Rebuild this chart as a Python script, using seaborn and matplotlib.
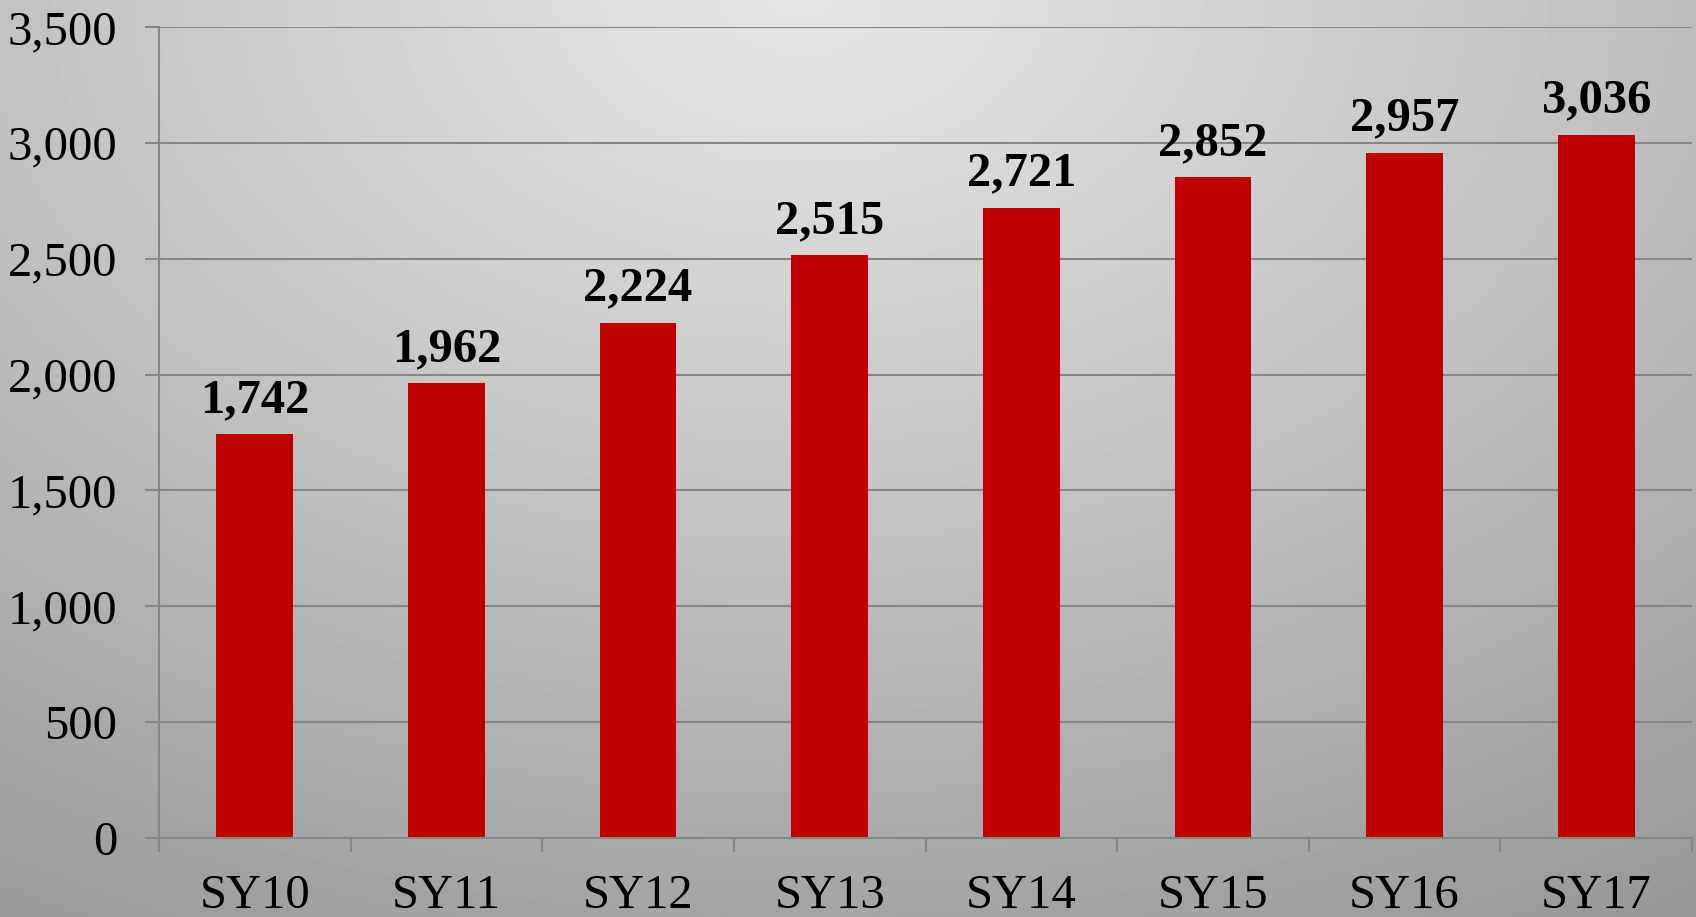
import numpy as np
import pandas as pd
import matplotlib
matplotlib.use("Agg")
import matplotlib.pyplot as plt
import seaborn as sns

years = ["SY10", "SY11", "SY12", "SY13", "SY14", "SY15", "SY16", "SY17"]
counts = [1742, 1962, 2224, 2515, 2721, 2852, 2957, 3036]
y_ticks = [0, 500, 1000, 1500, 2000, 2500, 3000, 3500]

sns.set_theme(style="white")
plt.rcParams["font.family"] = ["Liberation Serif", "DejaVu Serif"]
plt.rcParams["text.color"] = "black"

df = pd.DataFrame({"year": years, "count": counts})

W, H = 1696, 917
fig = plt.figure(figsize=(W / 100, H / 100), dpi=100)

# --- grey radial-ish background, light at top centre ---
bg = fig.add_axes([0, 0, 1, 1], zorder=-1)
xx, yy = np.meshgrid(np.arange(W), np.arange(H))
u = (xx - 800) / 800
w = yy / 917
d = np.sqrt((0.13 * u) ** 2 + (0.225 * w) ** 2)
v = np.clip(0.90 - d * (1 + 0.6 * d), 0, 1)
bg.imshow(v, cmap="gray", vmin=0, vmax=1, aspect="auto", extent=(0, W, H, 0))
bg.axis("off")

ax = fig.add_axes([159 / W, 79 / H, (1692 - 159) / W, (838 - 27) / H])
ax.set_facecolor("none")

sns.barplot(data=df, x="year", y="count", color="#C00000", saturation=1,
            width=0.4, linewidth=0, ax=ax)

ax.set_ylim(0, 3500)
ax.set_xlim(-0.5, len(years) - 0.5)
ax.set_yticks(y_ticks)
ax.set_yticklabels([f"{t:,}" for t in y_ticks], fontsize=35)
ax.yaxis.grid(True, color="#868686", linewidth=1.5)
ax.set_axisbelow(True)

# category boundary ticks (Excel style), labels on minor ticks
ax.set_xticks(np.arange(-0.5, len(years), 1.0))
ax.set_xticklabels([])
ax.set_xticks(range(len(years)), minor=True)
ax.set_xticklabels(years, minor=True, fontsize=35)
ax.tick_params(axis="x", which="major", length=10, width=1.5, color="#868686", direction="out", bottom=True)
ax.tick_params(axis="x", which="minor", length=0, pad=26, labelcolor="black")
ax.tick_params(axis="y", length=10, width=1.5, color="#868686", direction="out", left=True, pad=20,
               labelcolor="black")

ax.set_xlabel("")
ax.set_ylabel("")
for s in ["top", "right"]:
    ax.spines[s].set_visible(False)
for s in ["left", "bottom"]:
    ax.spines[s].set_color("#868686")
    ax.spines[s].set_linewidth(1.5)

for i, c in enumerate(counts):
    ax.annotate(f"{c:,}", (i, c), xytext=(0, 16), textcoords="offset points",
                ha="center", va="baseline", fontsize=35, fontweight="bold", color="black")

fig.savefig("out.png", dpi=100)
